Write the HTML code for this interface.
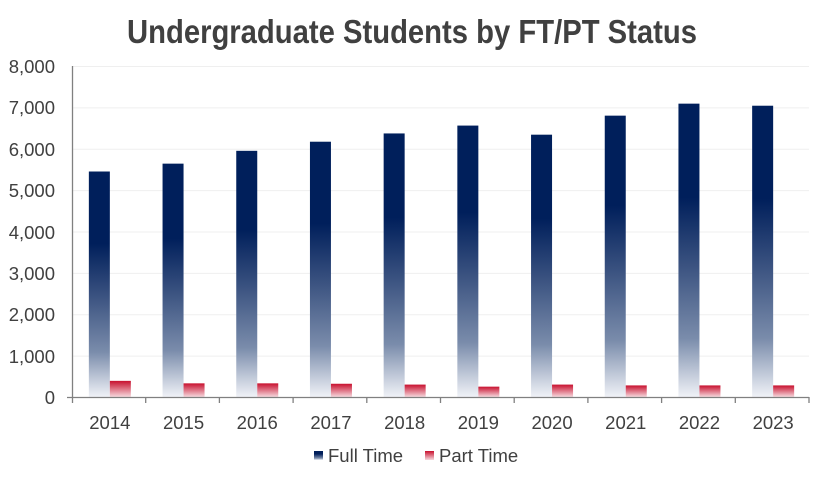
<!DOCTYPE html>
<html><head><meta charset="utf-8"><style>body{margin:0;background:#fff}svg{display:block}</style></head><body>
<svg width="824" height="477" xmlns="http://www.w3.org/2000/svg" font-family="Liberation Sans, sans-serif">
<defs>
<linearGradient id="ft" x1="0" y1="0" x2="0" y2="1">
<stop offset="0" stop-color="#001f5b"/><stop offset="0.32" stop-color="#001f5b"/>
<stop offset="0.55" stop-color="#3a5280"/><stop offset="0.8" stop-color="#7a8cab"/><stop offset="1" stop-color="#f0f2f7"/>
</linearGradient>
<linearGradient id="pt" x1="0" y1="0" x2="0" y2="1">
<stop offset="0" stop-color="#c8102e"/><stop offset="1" stop-color="#f6d9de"/>
</linearGradient>
</defs>
<text x="412" y="43" text-anchor="middle" font-size="33" font-weight="bold" fill="#404040" textLength="570" lengthAdjust="spacingAndGlyphs">Undergraduate Students by FT/PT Status</text>
<g stroke="#efefef" stroke-width="1">
<line x1="72" x2="809" y1="66.5" y2="66.5"/><line x1="72" x2="809" y1="107.9" y2="107.9"/><line x1="72" x2="809" y1="149.3" y2="149.3"/><line x1="72" x2="809" y1="190.6" y2="190.6"/><line x1="72" x2="809" y1="232" y2="232"/><line x1="72" x2="809" y1="273.4" y2="273.4"/><line x1="72" x2="809" y1="314.8" y2="314.8"/><line x1="72" x2="809" y1="356.1" y2="356.1"/>
</g>
<g font-size="18.5" fill="#404040" text-anchor="end">
<text x="55" y="73">8,000</text><text x="55" y="114">7,000</text><text x="55" y="156">6,000</text><text x="55" y="197">5,000</text><text x="55" y="239">4,000</text><text x="55" y="280">3,000</text><text x="55" y="321">2,000</text><text x="55" y="363">1,000</text><text x="55" y="404">0</text>
</g>
<g id="bars"></g>
<g stroke="#808080" stroke-width="1.3" fill="none">
<line x1="72.5" y1="66" x2="72.5" y2="397"/><line x1="67" y1="397.5" x2="809" y2="397.5"/>
</g>
<g id="ticks" stroke="#808080" stroke-width="1.3"></g>
<g id="lbl" font-size="18.5" fill="#404040" text-anchor="middle"></g>
<rect x="314" y="451" width="9" height="9" fill="url(#ft)"/>
<text x="328" y="462" font-size="18.5" fill="#404040">Full Time</text>
<rect x="425" y="451" width="9" height="9" fill="url(#pt)"/>
<text x="439" y="462" font-size="18.5" fill="#404040">Part Time</text>
<script>
var ft=[5450,5640,5950,6170,6370,6560,6340,6800,7090,7040],pt=[390,330,330,320,300,250,300,280,280,280];
var ns="http://www.w3.org/2000/svg",b=document.getElementById('bars'),t=document.getElementById('ticks'),l=document.getElementById('lbl');
function el(p,n,a){var e=document.createElementNS(ns,n);for(var k in a)e.setAttribute(k,a[k]);p.appendChild(e);return e;}
var s=41.375/1000,w=73.7;
for(var i=0;i<10;i++){var c=72+w*(i+0.5);
var h=ft[i]*s;el(b,'rect',{x:c-20,y:397-h,width:21,height:h,fill:'url(#ft)'});
h=pt[i]*s;el(b,'rect',{x:c+1,y:397-h,width:21,height:h,fill:'url(#pt)'});
var x=72+w*(i+1);el(t,'line',{x1:x,x2:x,y1:397,y2:403});
el(l,'text',{x:c+1,y:429}).textContent=2014+i;}
el(t,'line',{x1:72.5,x2:72.5,y1:397,y2:403});
</script>
</svg>
</body></html>
